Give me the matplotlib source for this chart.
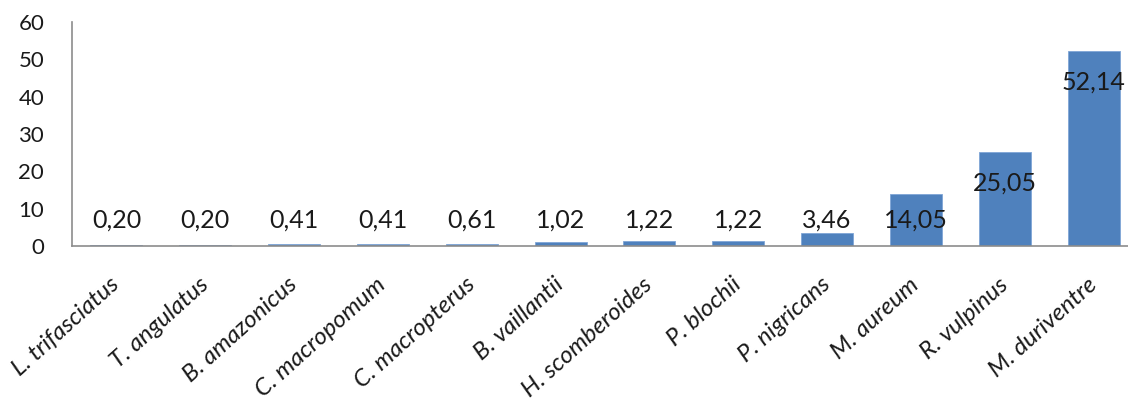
import matplotlib.pyplot as plt
import matplotlib.transforms as mtransforms
import numpy as np

plt.rcParams['font.family'] = ['Lato', 'DejaVu Sans']

# species and percentage values
species = ['L. trifasciatus', 'T. angulatus', 'B. amazonicus', 'C. macropomum',
           'C. macropterus', 'B. vaillantii', 'H. scomberoides', 'P. blochii',
           'P. nigricans', 'M. aureum', 'R. vulpinus', 'M. duriventre']
values = [0.20, 0.20, 0.41, 0.41, 0.61, 1.02, 1.22, 1.22, 3.46, 14.05, 25.05, 52.14]
yticks = [0, 10, 20, 30, 40, 50, 60]

fig = plt.figure(figsize=(11.28, 4.09), dpi=100)
ax = fig.add_axes([72 / 1128, 163 / 409, 1066 / 1128, 224 / 409])

x = np.arange(len(species))
ax.bar(x, values, width=0.585, color='#4F81BD', edgecolor='#7FA5D6', linewidth=0.6, zorder=2)

# value labels: inside the top of tall bars, just above the axis for small ones
for xi, v in zip(x, values):
    ax.text(xi, max(v - 8.2, 7), f'{v:.2f}'.replace('.', ','),
            ha='center', va='center', fontsize=18, color='#1a1a1a', zorder=3)

ax.set_xlim(-0.5, len(species) - 0.5)
ax.set_ylim(0, 60)
ax.set_yticks(yticks)
ax.set_yticklabels([str(t) for t in yticks], fontsize=16)
ax.set_xticks(x)
ax.set_xticklabels(species, rotation=42, ha='right', rotation_mode='anchor',
                   fontsize=17.5, fontstyle='italic')
ax.tick_params(axis='x', length=0, pad=20, colors='#1a1a1a')
ax.tick_params(axis='y', length=0, pad=20, colors='#1a1a1a')

# nudge the slanted names a little to the left
shift = mtransforms.ScaledTranslation(-5 / 72, 0, fig.dpi_scale_trans)
for lbl in ax.get_xticklabels():
    lbl.set_transform(lbl.get_transform() + shift)

for side in ['top', 'right']:
    ax.spines[side].set_visible(False)
for side in ['left', 'bottom']:
    ax.spines[side].set_color('#8c8c8c')
    ax.spines[side].set_linewidth(1.2)

fig.savefig('out.png', dpi=100)
